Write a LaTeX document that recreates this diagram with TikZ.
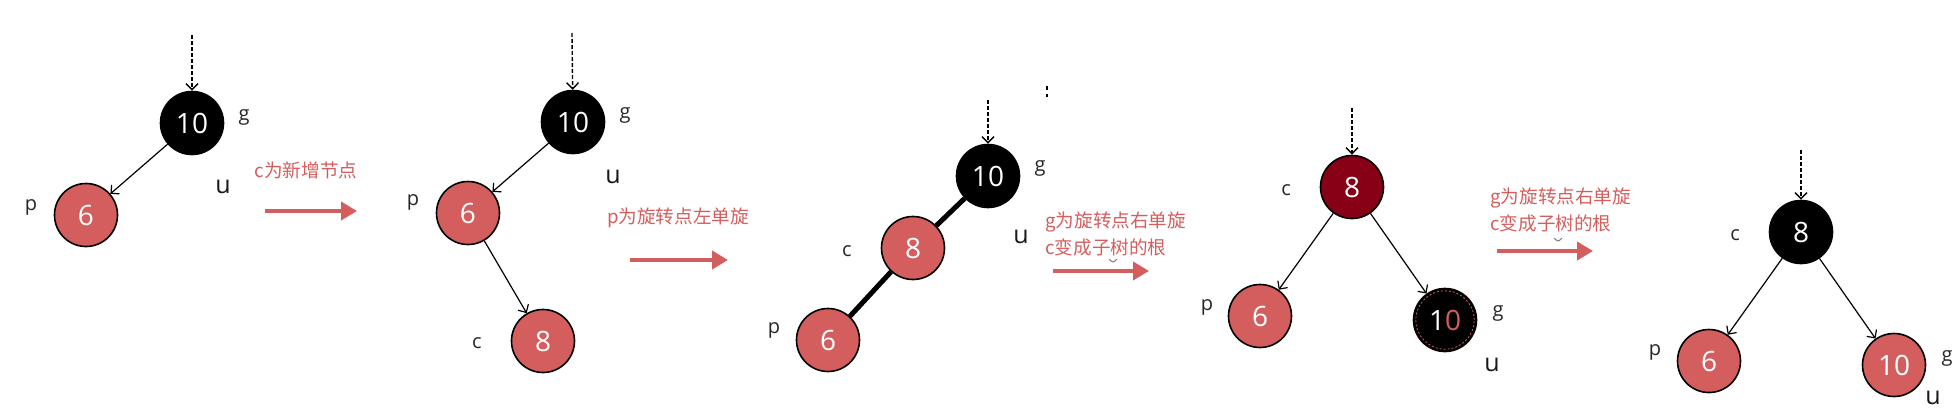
\documentclass[tikz,border=0pt]{standalone}
\usepackage{fontspec}
\setmainfont{Open Sans}
\newfontfamily\cjk{Noto Sans CJK SC}
\usetikzlibrary{arrows.meta, positioning}

\definecolor{nodered}{RGB}{212,94,94}
\definecolor{rootred}{RGB}{136,0,22}

\begin{document}
\begin{tikzpicture}[
    x=0.5pt, y=-0.5pt,
    rb/.style={circle, draw, line width=0.8pt, minimum size=31.5pt, inner sep=0pt, text=white, font=\fontsize{14}{14}\selectfont},
    rednode/.style={rb, fill=nodered},
    blacknode/.style={rb, fill=black},
    darknode/.style={rb, fill=rootred},
    tag/.style={text=black!85, font=\fontsize{10}{10}\selectfont},
    utag/.style={text=black!90, font=\fontsize{12.5}{12.5}\selectfont},
    link/.style={-{Straight Barb[length=3pt, width=6pt]}, line width=0.6pt},
    entry/.style={link, line width=0.7pt, dash pattern=on 2pt off 1pt},
    bond/.style={line width=2.5pt},
    note/.style={text=nodered, inner sep=0pt, align=left, font=\cjk\fontsize{9.3}{13.3}\selectfont},
    trans/.style={-{Triangle[length=8pt, width=9pt]}, line width=2pt, nodered}
]
\useasboundingbox (0,0) rectangle (1956,413);

% Panel 1: c is the new node
\node[blacknode] (g1) at (192,123) {10};
\node[rednode] (p1) at (86,215) {6};
\node[tag] at (244,117) {g};
\node[tag] at (31,207) {p};
\node[utag] at (223,187) {u};
\coordinate (top1) at (192,35);

% Panel 2
\node[blacknode] (g2) at (573,122) {10};
\node[rednode] (p2) at (468,213) {6};
\node[rednode] (c2) at (543,341) {8};
\node[tag] at (625,115) {g};
\node[utag] at (613,177) {u};
\node[tag] at (413,202) {p};
\node[tag] at (477,343) {c};
\coordinate (top2) at (572,33);

% Panel 3
\node[blacknode] (g3) at (988,176) {10};
\node[rednode] (c3) at (913,248) {8};
\node[rednode] (p3) at (828,340) {6};
\node[tag] at (1040,168) {g};
\node[utag] at (1021,237) {u};
\node[tag] at (847,251) {c};
\node[tag] at (774,330) {p};
\coordinate (top3) at (988,100);
\coordinate (dot1) at (1047,86);
\coordinate (dot2) at (1047,97);

% Panel 4
\node[darknode] (c4) at (1352,187) {8};
\node[rednode] (p4) at (1260,316) {6};
\node[blacknode] (g4) at (1445,320) {1\textcolor{nodered}{0}};
\draw[nodered, line width=0.4pt, dash pattern=on 1pt off 1pt] (g4) circle[radius=14.6pt];
\node[tag] at (1286,190) {c};
\node[tag] at (1207,307) {p};
\node[tag] at (1498,313) {g};
\node[utag] at (1492,365) {u};
\coordinate (top4) at (1352,108);

% Panel 5
\node[blacknode] (c5) at (1801,232) {8};
\node[rednode] (p5) at (1709,361) {6};
\node[rednode] (g5) at (1894,365) {10};
\node[tag] at (1735,235) {c};
\node[tag] at (1655,352) {p};
\node[tag] at (1947,358) {g};
\node[utag] at (1933,398) {u};
\coordinate (top5) at (1801,150);

% Steps between panels
\node[note] (n1) at (306,170) {c为新增节点};
\node[note] (n2) at (678,218) {p为旋转点左单旋};
\node[note, anchor=west] (n3) at (1045,234) {g为旋转点右单旋\\c变成子树的根};
\node[note, anchor=west] (n4) at (1490,210) {g为旋转点右单旋\\c变成子树的根};
\coordinate (s1) at (265,211);  \coordinate (e1) at (357,211);
\coordinate (s2) at (630,260);  \coordinate (e2) at (728,260);
\coordinate (s3) at (1053,271); \coordinate (e3) at (1149,271);
\coordinate (s4) at (1497,251); \coordinate (e4) at (1593,251);
\draw[trans] (s1) -- (e1);
\draw[trans] (s2) -- (e2);
\draw[trans] (s3) -- (e3);
\draw[trans] (s4) -- (e4);

% Arrows
\draw[entry] (top1) -- (g1);
\draw[link] (g1) -- (p1);
\draw[entry] (top2) -- (g2);
\draw[link] (g2) -- (p2);
\draw[link] (p2) -- (c2);
\draw[entry] (top3) -- (g3);
\draw[bond] (g3) -- (c3);
\draw[bond] (c3) -- (p3);
\draw[line width=0.8pt, dash pattern=on 2pt off 2pt] (dot1) -- (dot2);
\draw[entry] (top4) -- (c4);
\draw[link] (c4) -- (p4);
\draw[link] (c4) -- (g4);
\draw[entry] (top5) -- (c5);
\draw[link] (c5) -- (p5);
\draw[link] (c5) -- (g5);

% small marks under the notes
\draw[black!50, line width=0.5pt] (1109,259) .. controls (1113,263) .. (1117,259);
\draw[black!50, line width=0.5pt] (1554,238) .. controls (1558,242) .. (1562,238);

\end{tikzpicture}
\end{document}
